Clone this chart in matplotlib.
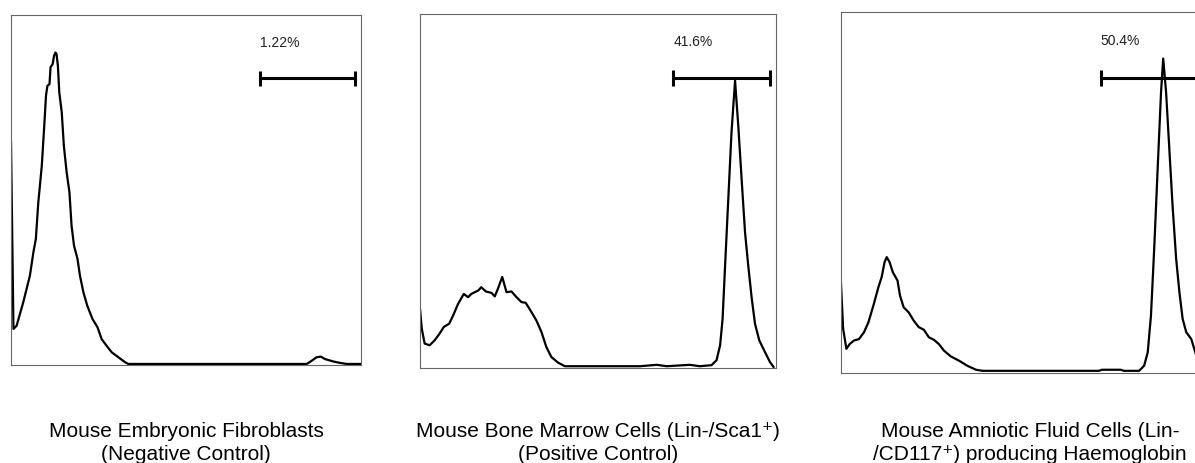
import matplotlib.pyplot as plt

plt.rcParams['font.family'] = ['Liberation Sans', 'DejaVu Sans']

# histogram outlines (x = fluorescence, y = count, both 0-100)
mef_x = [0, 0.7, 1.6, 3.5, 5.4, 6.4, 7.1, 7.8, 8.8, 9.5, 10.0, 10.4, 11.0, 11.3, 11.9,
         12.3, 12.7, 13.0, 13.4, 13.8, 14.5, 15.1, 15.9, 16.7, 17.3, 18.0, 19.0, 19.7,
         20.7, 21.8, 23.3, 24.7, 25.9, 27.3, 28.8, 30.7, 32.6, 33.5, 84.5, 85.9, 87.3,
         88.5, 89.7, 92.1, 94.0, 95.9, 100]
mef_y = [63.6, 10.3, 11.2, 17.9, 25.5, 32.2, 36.0, 46.4, 56.9, 68.3, 76.9, 79.7, 80.2,
         85.0, 85.9, 88.3, 89.2, 88.8, 85.4, 77.8, 72.1, 62.6, 55.0, 49.3, 39.8, 34.1,
         30.3, 25.5, 20.7, 16.9, 13.1, 10.8, 7.4, 5.5, 3.6, 2.2, 0.8, 0.3, 0.3, 1.2, 2.2,
         2.4, 1.7, 1.0, 0.6, 0.3, 0.3]

bm_x = [0, 0.5, 1.3, 2.7, 4.1, 5.5, 6.7, 8.2, 9.3, 10.7, 12.3, 13.5, 14.4, 15.4, 16.4,
        17.2, 18.5, 20.1, 21.0, 21.9, 23.1, 24.3, 25.7, 27.1, 28.5, 29.7, 31.3, 32.7,
        34.1, 35.5, 36.9, 38.8, 40.7, 61.8, 66.5, 69.3, 75.8, 78.6, 81.9, 83.3, 84.3,
        85.0, 85.7, 86.6, 87.5, 88.5, 89.4, 90.4, 91.3, 92.2, 93.2, 94.1, 95.3, 96.9,
        98.3, 99.3]
bm_y = [16.7, 11.1, 6.9, 6.4, 7.8, 9.7, 11.6, 12.5, 14.8, 18.1, 20.9, 20.0, 20.9, 21.4,
        21.9, 22.8, 21.6, 21.2, 20.2, 22.4, 25.7, 21.4, 21.6, 20.0, 18.6, 18.4, 15.8,
        13.4, 10.2, 5.9, 3.1, 1.5, 0.5, 0.5, 0.9, 0.5, 0.9, 0.5, 0.8, 2.2, 6.4, 13.9,
        28.9, 47.7, 66.5, 81.1, 68.4, 52.4, 38.3, 28.9, 19.5, 12.5, 7.8, 4.5, 1.7, 0.3]

af_x = [0, 0.6, 1.5, 2.4, 3.6, 5.0, 6.4, 7.6, 9.0, 10.4, 11.3, 12.1, 12.7, 13.5, 14.4,
        15.7, 16.4, 17.4, 18.8, 20.2, 21.6, 23.0, 24.4, 25.8, 27.2, 28.6, 30.5, 32.8,
        35.1, 37.5, 39.3, 71.6, 72.5, 77.7, 78.6, 82.8, 84.2, 85.2, 86.1, 87.0, 88.0,
        88.9, 89.5, 90.3, 91.2, 92.1, 93.1, 94.0, 94.9, 95.9, 97.3, 98.7, 99.6]
af_y = [24.7, 12.2, 6.7, 8.0, 9.0, 9.4, 11.3, 14.0, 18.7, 23.8, 26.6, 30.7, 32.1, 30.7,
        27.9, 25.6, 21.4, 18.2, 16.8, 14.5, 12.7, 12.0, 9.9, 9.2, 8.0, 6.2, 4.6, 3.4,
        2.0, 0.9, 0.6, 0.6, 0.9, 0.9, 0.6, 0.6, 2.0, 5.7, 15.9, 34.4, 57.5, 77.8, 87.1,
        77.8, 62.1, 46.4, 31.6, 22.4, 15.0, 11.3, 9.4, 4.8, 1.1]

# gate markers: start, end, height, label
gate_start = [71.1, 71.2, 72.2]
gate_end = [98.4, 98.3, 101.0]
gate_y = [81.8, 81.8, 81.7]
gate_labels = ['1.22%', '41.6%', '50.4%']

captions = [
    ['Mouse Embryonic Fibroblasts', '(Negative Control)'],
    ['Mouse Bone Marrow Cells (Lin-/Sca1\u207a)', '(Positive Control)'],
    ['Mouse Amniotic Fluid Cells (Lin-', '/CD117\u207a) producing Haemoglobin'],
]

fig = plt.figure(figsize=(11.95, 4.64), dpi=100)

# axes boxes in figure pixels: left, top, right, bottom
boxes = [(11, 15.7, 361, 366), (420, 14.7, 776, 369), (841, 13, 1201, 374)]
caption_x = [186, 598, 1030]
W, H = 1195, 464

curves = [(mef_x, mef_y), (bm_x, bm_y), (af_x, af_y)]

for i, (l, t, r, b) in enumerate(boxes):
    ax = fig.add_axes([l / W, 1 - b / H, (r - l) / W, (b - t) / H])
    xs, ys = curves[i]
    ax.plot(xs, ys, color='black', lw=1.6)
    ax.set_xlim(0, 100)
    ax.set_ylim(0, 100)
    ax.set_xticks([])
    ax.set_yticks([])
    for s in ax.spines.values():
        s.set_color('#666666')
        s.set_linewidth(0.8)

    # gate bar
    ax.hlines(gate_y[i], gate_start[i], gate_end[i], color='black', lw=2.2)
    ax.vlines([gate_start[i], gate_end[i]], gate_y[i] - 2.2, gate_y[i] + 2.2,
              color='black', lw=2.2)
    ax.text(gate_start[i], 92.3, gate_labels[i], fontsize=10, color='#222222',
            ha='left', va='center')

    fig.text(caption_x[i] / W, 1 - 437 / H, captions[i][0], fontsize=15,
             ha='center', va='baseline')
    fig.text(caption_x[i] / W, 1 - 460 / H, captions[i][1], fontsize=15,
             ha='center', va='baseline')

fig.savefig('out.png', dpi=100)
